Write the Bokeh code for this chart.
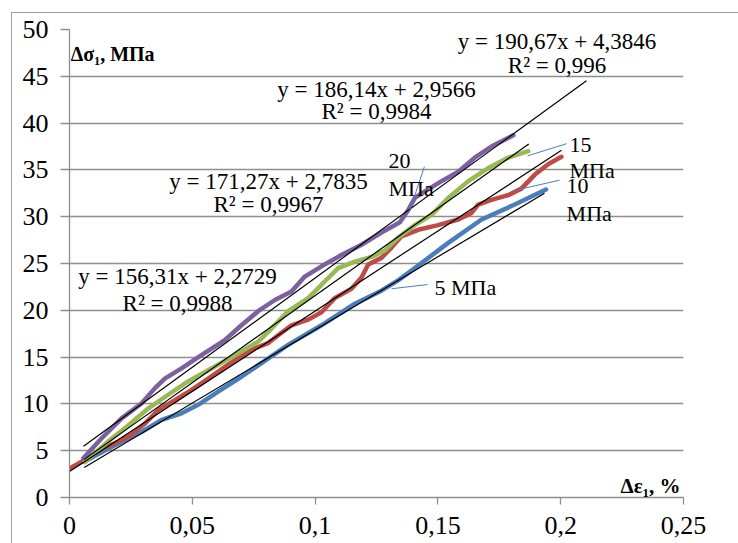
from bokeh.plotting import figure
from bokeh.models import Range1d, FixedTicker, CustomJSTickFormatter, Label, LinearAxis
from bokeh.embed import file_html
from bokeh.resources import INLINE

# ---------------- data ----------------
x_5 = [0.006, 0.0096, 0.0212, 0.0293, 0.0375, 0.0456, 0.0524, 0.0605, 0.070, 0.089, 0.1026,
       0.1162, 0.127, 0.1338, 0.1406, 0.1542, 0.1678, 0.1813, 0.194]
y_5 = [3.8, 4.35, 5.95, 7.0, 8.3, 9.0, 9.9, 11.3, 12.9, 16.3, 18.4,
       20.7, 22.1, 23.2, 24.5, 27.2, 29.7, 31.3, 32.9]

x_10 = [0.0, 0.0062, 0.013, 0.0198, 0.0252, 0.0307, 0.0361, 0.0429, 0.0497, 0.0565, 0.0646,
        0.0741, 0.0809, 0.0863, 0.0904, 0.0972, 0.1026, 0.108, 0.1148, 0.1189, 0.1216, 0.127,
        0.1311, 0.1352, 0.142, 0.1501, 0.1583, 0.1637, 0.1664, 0.1718, 0.1786, 0.184, 0.1895,
        0.1949, 0.2003]
y_10 = [3.1, 4.0, 5.2, 5.95, 6.7, 7.9, 9.35, 10.4, 11.5, 12.7, 14.2,
        15.8, 16.5, 17.6, 18.4, 19.0, 19.8, 21.3, 22.3, 23.5, 24.9, 25.6,
        26.7, 27.9, 28.6, 29.1, 29.7, 30.4, 31.3, 31.8, 32.3, 33.0, 34.5,
        35.6, 36.4]

x_15 = [0.0062, 0.0158, 0.0239, 0.032, 0.040, 0.0483, 0.0565, 0.0673, 0.0768, 0.0809, 0.089,
        0.0972, 0.104, 0.1094, 0.1162, 0.123, 0.1284, 0.1335, 0.1406, 0.1474, 0.1542, 0.1624,
        0.1705, 0.1786, 0.1868]
y_15 = [3.8, 6.0, 7.7, 9.5, 10.95, 12.4, 13.6, 15.2, 16.65, 17.7, 19.9,
        21.3, 23.1, 24.5, 25.2, 25.7, 26.4, 27.7, 29.1, 30.2, 32.0, 33.8,
        35.2, 36.3, 37.0]

x_20 = [0.0056, 0.013, 0.0212, 0.0293, 0.0347, 0.0388, 0.0456, 0.0537, 0.0632, 0.070, 0.0768,
        0.0836, 0.0904, 0.0958, 0.1026, 0.1107, 0.1189, 0.127, 0.1345, 0.1379, 0.1406, 0.1447,
        0.1515, 0.1583, 0.165, 0.1718, 0.1807]
y_20 = [4.2, 6.3, 8.45, 10.05, 11.66, 12.7, 13.8, 15.2, 16.8, 18.4, 19.9,
        21.1, 22.0, 23.6, 24.7, 25.9, 27.0, 28.3, 29.4, 30.7, 32.0, 32.7,
        33.8, 34.8, 36.3, 37.5, 38.7]

# linear trend lines (Excel): slope, intercept, x-extent
trend_slope = [156.31, 171.27, 186.14, 190.67]
trend_icpt = [2.2729, 2.7835, 2.9566, 4.3846]
trend_r2 = ["0,9988", "0,9967", "0,9984", "0,996"]
trend_x0 = [0.006, 0.0, 0.006, 0.0057]
trend_x1 = [0.1934, 0.2003, 0.187, 0.2105]

series_names = ["5 МПа", "10 МПа", "15 МПа", "20 МПа"]
series_colors = ["#4a7ebb", "#be4b48", "#98b954", "#7d60a0"]

x_ticks = [0, 0.05, 0.1, 0.15, 0.2, 0.25]
y_ticks = [0, 5, 10, 15, 20, 25, 30, 35, 40, 45, 50]

FONT = "Liberation Serif"
GRAY = "#8e8e8e"

p = figure(width=727, height=531, output_backend="svg", toolbar_location=None,
           x_range=Range1d(0, 0.25), y_range=Range1d(0, 50),
           min_border_left=57, min_border_right=56, min_border_top=16, min_border_bottom=47,
           margin=(12, 0, 0, 11), x_axis_location=None, y_axis_location=None)
p.styles = {"border-left": "1px solid #a0a0a0", "border-top": "1px solid #a0a0a0"}
p.outline_line_color = None

fmt = CustomJSTickFormatter(code="var s = Number(tick.toFixed(3)).toString(); return s.replace('.', ',');")
xa = LinearAxis(ticker=FixedTicker(ticks=x_ticks), formatter=fmt, major_tick_out=7,
                major_label_text_font=FONT, major_label_text_font_size="26px")
ya = LinearAxis(ticker=FixedTicker(ticks=y_ticks), major_tick_out=9,
                major_label_text_font=FONT, major_label_text_font_size="26px")
for ax in (xa, ya):
    ax.axis_line_color = GRAY
    ax.axis_line_width = 1.3
    ax.major_tick_line_color = GRAY
    ax.major_tick_line_width = 1.3
    ax.minor_tick_line_color = None
    ax.major_tick_in = 0
    ax.major_label_text_color = "black"
    ax.major_label_standoff = 12
p.add_layout(xa, "below")
p.add_layout(ya, "left")

# grid
p.xgrid.visible = False
p.ygrid.grid_line_color = GRAY
p.ygrid.grid_line_width = 1.3
p.ygrid.ticker = FixedTicker(ticks=y_ticks)

# series
for xs, ys, c in zip([x_5, x_10, x_15, x_20], [y_5, y_10, y_15, y_20], series_colors):
    p.line(xs, ys, line_color=c, line_width=4.5, line_join="round", line_cap="round")

# trend lines
for k, b, x0, x1 in zip(trend_slope, trend_icpt, trend_x0, trend_x1):
    p.line([x0, x1], [k * x0 + b, k * x1 + b], line_color="black", line_width=1.2)

def fmt_eq(k, b):
    return "y = " + f"{k:.2f}".replace(".", ",") + "x + " + f"{b:.4f}".replace(".", ",")

eq_pos = [(0.044, 23.6, 20.7), (0.081, 33.76, 31.3), (0.125, 43.6, 41.25), (0.1985, 48.68, 46.17)]
for (ex, ey1, ey2), k, b, r2 in zip(eq_pos, trend_slope, trend_icpt, trend_r2):
    p.add_layout(Label(x=ex, y=ey1, text=fmt_eq(k, b), text_align="center", text_baseline="middle",
                       text_font=FONT, text_font_size="23px", text_color="black"))
    p.add_layout(Label(x=ex, y=ey2, text="R² = " + r2, text_align="center", text_baseline="middle",
                       text_font=FONT, text_font_size="23px", text_color="black"))

lead = [((0.1458, 22.75), (0.1311, 22.3)),
        ((0.1995, 33.9), (0.1812, 32.8)),
        ((0.2024, 37.8), (0.1865, 36.5)),
        ((0.1445, 35.35), (0.1384, 30.55))]
for (a, bpt) in lead:
    p.line([a[0], bpt[0]], [a[1], bpt[1]], line_color="#4a7ebb", line_width=1)

lab_pos = [[(0.1486, 22.4, series_names[0])],
           [(0.2024, 33.3, series_names[1].split(" ")[0]), (0.2024, 30.3, series_names[1].split(" ")[1])],
           [(0.2036, 37.7, series_names[2].split(" ")[0]), (0.2036, 34.9, series_names[2].split(" ")[1])],
           [(0.1299, 35.9, series_names[3].split(" ")[0]), (0.1299, 33.0, series_names[3].split(" ")[1])]]
for group in lab_pos:
    for lx, ly, t in group:
        p.add_layout(Label(x=lx, y=ly, text=t, text_align="left", text_baseline="middle",
                           text_font=FONT, text_font_size="22px", text_color="black"))

p.add_layout(Label(x=0.0005, y=47.35, text="Δσ₁, МПа", text_align="left", text_baseline="middle",
                   text_font=FONT, text_font_size="20px", text_font_style="bold", text_color="black"))
p.add_layout(Label(x=0.2488, y=1.2, text="Δε₁, %", text_align="right", text_baseline="middle",
                   text_font=FONT, text_font_size="21px", text_font_style="bold", text_color="black"))

open("out.html", "w").write(file_html(p, INLINE))
